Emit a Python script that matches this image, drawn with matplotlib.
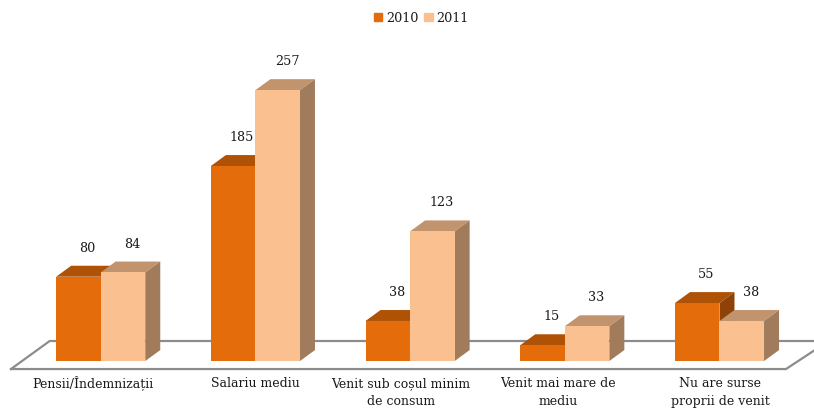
import numpy as np
import matplotlib
matplotlib.use("Agg")
import matplotlib.pyplot as plt
from matplotlib.patches import Polygon, Patch

categories = ["Pensii/Îndemnizații", "Salariu mediu", "Venit sub coșul minim\nde consum",
              "Venit mai mare de\nmediu", "Nu are surse\nproprii de venit"]
values_2010 = [80, 185, 38, 15, 55]
values_2011 = [84, 257, 123, 33, 38]

# style of the fake 3D boxes: front, top, side
colors_2010 = ("#E46C0A", "#B05206", "#8E4207")
colors_2011 = ("#FBC08F", "#C2946E", "#A17C5C")
bar_w = 0.288
depth_x = 0.097
depth_y = 10.4
label_shift = [-0.05, 0, -0.058, -0.045, 0.005]

plt.rcParams["font.family"] = ["DejaVu Serif"]

fig = plt.figure(figsize=(8.14, 4.09), dpi=100)
ax = fig.add_axes([0, 0, 1, 1])
ax.set_xlim(-0.651, 4.611)
ax.set_ylim(-45.5, 342.5)
ax.axis("off")


def box(x, h, colors):
    x1 = x + bar_w
    ax.add_patch(Polygon([(x, h), (x1, h), (x1 + depth_x, h + depth_y), (x + depth_x, h + depth_y)],
                         fc=colors[1], ec="none"))
    ax.add_patch(Polygon([(x1, 0), (x1 + depth_x, depth_y), (x1 + depth_x, h + depth_y), (x1, h)],
                         fc=colors[2], ec="none"))
    ax.add_patch(Polygon([(x, 0), (x1, 0), (x1, h), (x, h)], fc=colors[0], ec="none"))


# floor
floor_y0, floor_y1 = -7.6, 19
ax.plot([-0.58, -0.33, 4.7], [floor_y0, floor_y1, floor_y1], color="#8C8C8C", lw=1.6, zorder=0)
ax.plot([-0.58, 4.43, 4.7], [floor_y0, floor_y0, floor_y1 - 0.5], color="#8C8C8C", lw=1.6, zorder=0)

for i in range(len(categories)):
    box(i - bar_w, values_2010[i], colors_2010)
    box(i, values_2011[i], colors_2011)
    ax.text(i - bar_w / 2 + 0.057, values_2010[i] + 27, str(values_2010[i]),
            ha="center", va="center", fontsize=9.2, color="#1a1a1a")
    ax.text(i + bar_w / 2 + 0.06, values_2011[i] + 27, str(values_2011[i]),
            ha="center", va="center", fontsize=9.2, color="#1a1a1a")
    # one text per line so the first baselines stay level
    for j, line in enumerate(categories[i].split("\n")):
        ax.text(i + label_shift[i], -24.7 - 16.8 * j, line, ha="center", va="baseline",
                fontsize=9, color="#1a1a1a")

handles = [Patch(color=colors_2010[0], label="2010"), Patch(color=colors_2011[0], label="2011")]
ax.legend(handles=handles, loc="center", bbox_to_anchor=(421.5 / 814, 1 - 18 / 409), ncol=2, frameon=False,
          fontsize=9.2, handlelength=0.65, handleheight=0.65, handletextpad=0.3, columnspacing=0.45,
          labelcolor="#1a1a1a")

fig.savefig("out.png", dpi=100)
